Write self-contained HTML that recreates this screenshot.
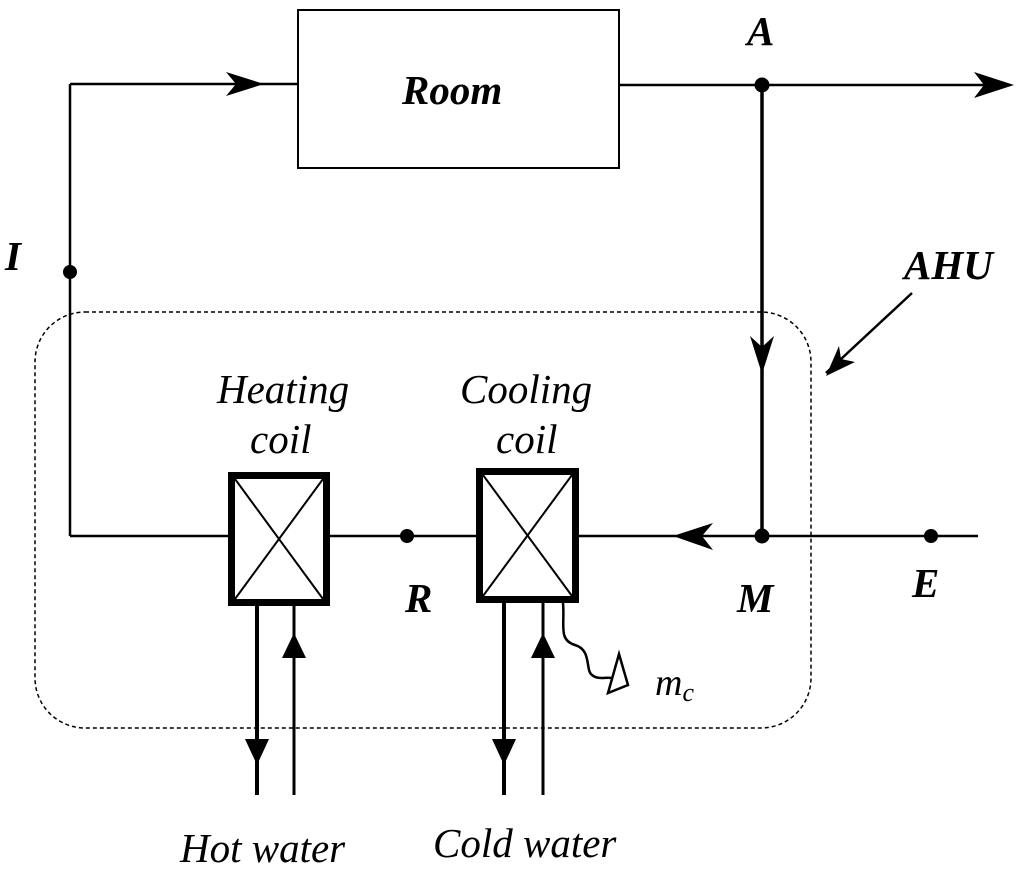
<!DOCTYPE html>
<html><head><style>body{margin:0;background:#fff}svg{display:block}text{font-family:"Liberation Serif",serif;font-style:italic}</style></head><body>
<svg width="1024" height="878" viewBox="0 0 1024 878">
<g stroke="#000" fill="none">
<rect x="298" y="10" width="321" height="158" stroke-width="2"/>
<line x1="70" y1="84" x2="298" y2="84" stroke-width="2.5"/>
<line x1="70" y1="84" x2="70" y2="536" stroke-width="2.5"/>
<line x1="70" y1="536" x2="228" y2="536" stroke-width="2.5"/>
<line x1="619" y1="85" x2="1010" y2="85" stroke-width="2.5"/>
<line x1="762" y1="85" x2="762" y2="536" stroke-width="3.5"/>
<line x1="330" y1="536" x2="476" y2="536" stroke-width="2.5"/>
<line x1="579" y1="536" x2="978" y2="536" stroke-width="2.5"/>
<rect x="35" y="312" width="776" height="416" rx="50" stroke-width="1.5" stroke-dasharray="4,3"/>
<rect x="231.5" y="475.5" width="95" height="127" stroke-width="7"/>
<line x1="235" y1="479" x2="323" y2="599" stroke-width="2"/>
<line x1="323" y1="479" x2="235" y2="599" stroke-width="2"/>
<rect x="479.5" y="471.5" width="96" height="128" stroke-width="7"/>
<line x1="483" y1="475" x2="572" y2="596" stroke-width="2"/>
<line x1="572" y1="475" x2="483" y2="596" stroke-width="2"/>
<line x1="257" y1="606" x2="257" y2="795" stroke-width="4"/>
<line x1="294" y1="606" x2="294" y2="795" stroke-width="3"/>
<line x1="504" y1="603" x2="504" y2="795" stroke-width="4"/>
<line x1="543" y1="603" x2="543" y2="795" stroke-width="3"/>
<path d="M563,603 C565,625 558,640 575,645 C592,650 585,670 592,675 C598,680 605,677 612,678" stroke-width="2.5"/>
<path d="M619,654 L628,685 L608,693 Z" stroke-width="2.5"/>
<line x1="912" y1="293" x2="826" y2="373" stroke-width="2.5"/>
</g>
<g fill="#000">
<path d="M264,84 L226,72 L236,84 L226,96 Z"/>
<path d="M1014,85 L974,72 L984,85 L974,98 Z"/>
<path d="M762,374 L750,336 L762,347 L774,336 Z"/>
<path d="M673,536 L713,523 L702,536 L713,550 Z"/>
<path d="M826,376 L839,346 L841,359 L855,362 Z"/>
<path d="M257,765 L245,739 L269,739 Z"/>
<path d="M294,633 L282,658 L306,658 Z"/>
<path d="M504,765 L492,739 L516,739 Z"/>
<path d="M543,633 L531,658 L555,658 Z"/>
<circle cx="762" cy="85" r="7.5"/>
<circle cx="70" cy="272" r="7"/>
<circle cx="407" cy="536" r="7"/>
<circle cx="762" cy="536" r="7.5"/>
<circle cx="931" cy="536" r="7"/>
</g>
<g font-size="41">
<text x="402" y="104" font-weight="bold">Room</text>
<text x="747" y="45" font-weight="bold">A</text>
<text x="5" y="270" font-weight="bold">I</text>
<text x="904" y="279" font-weight="bold">AHU</text>
<text x="405" y="612" font-weight="bold">R</text>
<text x="737" y="612" font-weight="bold">M</text>
<text x="912" y="597" font-weight="bold">E</text>
<text x="217" y="403">Heating</text>
<text x="250" y="453">coil</text>
<text x="460" y="403">Cooling</text>
<text x="496" y="453">coil</text>
<text x="180" y="862">Hot water</text>
<text x="433" y="857">Cold water</text>
<text x="655" y="695" font-size="38">m<tspan font-size="26" dy="6">c</tspan></text>
</g>
</svg>
</body></html>
